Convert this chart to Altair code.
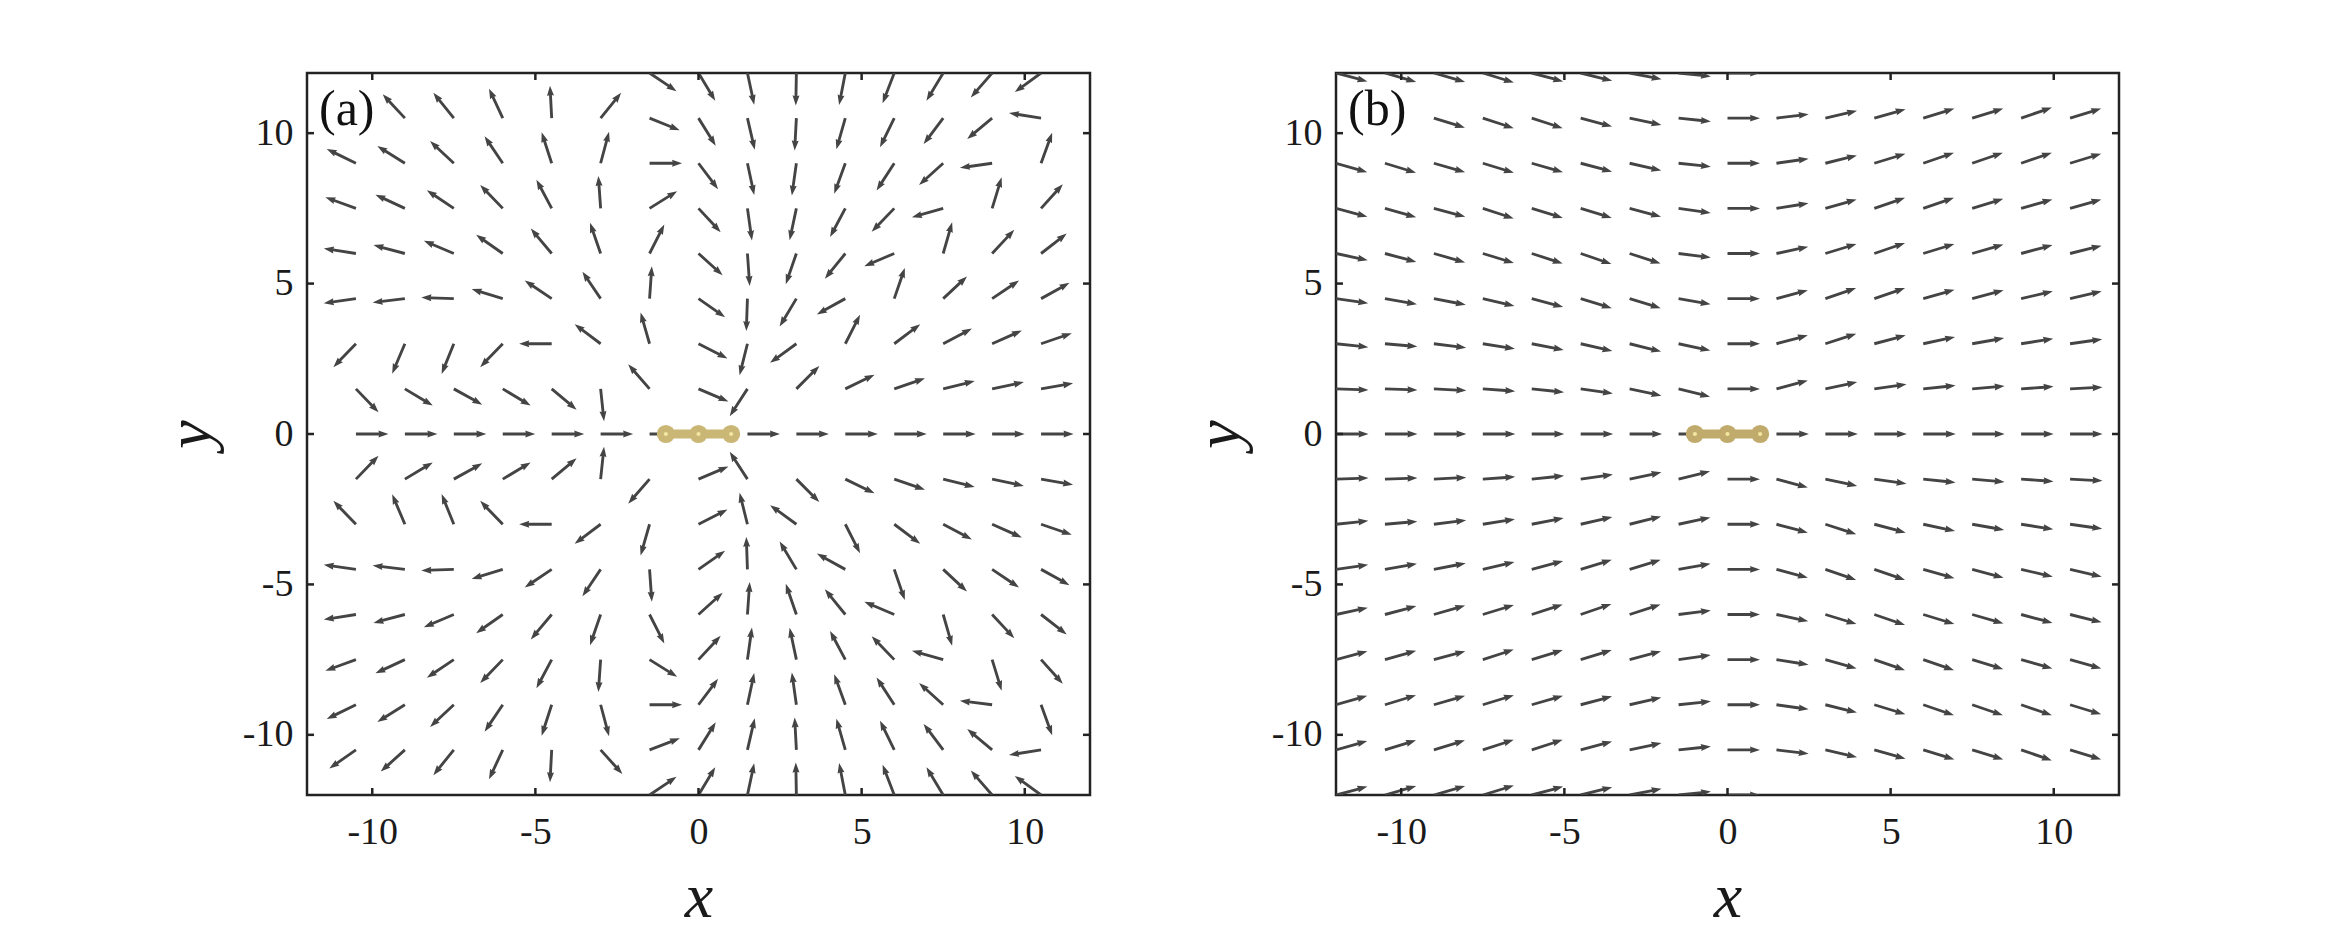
import altair as alt
import pandas as pd

# ---------------- data ----------------
# grid of arrow tails
XS_A = [-10.5, -9, -7.5, -6, -4.5, -3, -1.5, 0, 1.5, 3, 4.5, 6, 7.5, 9, 10.5]
XS_B = [-12, -10.5, -9, -7.5, -6, -4.5, -3, -1.5, 0, 1.5, 3, 4.5, 6, 7.5, 9, 10.5]
YS = [12, 10.5, 9, 7.5, 6, 4.5, 3, 1.5, 0, -1.5, -3, -4.5, -6, -7.5, -9, -10.5, -12]

N = None  # arrow not visible (outside frame or under the panel label)

# arrow directions, degrees counter-clockwise from +x (one row per YS value)
ANG_A = [
    [N, N, N, N, N, N, 326, 301, 282, 269, 259, 249, 239, 229, 216],
    [N, 133, 129, 115, 93, 51, 338, 302, 283, 267, 254, 244, 233, 220, 171],
    [154, 148, 137, 124, 108, 75, 0, 307, 282, 262, 250, 237, 222, 188, 70],
    [160, 155, 146, 134, 118, 94, 32, 313, 278, 258, 242, 226, 196, 73, 48],
    [171, 165, 157, 145, 130, 109, 63, 318, 274, 251, 231, 203, 74, 47, 38],
    [188, 187, 178, 163, 146, 124, 86, 325, 268, 239, 209, 71, 43, 34, 29],
    [226, 247, 248, 226, 180, 143, 106, 333, 256, 216, 63, 37, 28, 24, 19],
    [314, 329, 331, 329, 320, 276, 131, 337, 237, 45, 26, 19, 14, 12, 10],
    [0, 0, 0, 0, 0, 0, 0, 0, 0, 0, 0, 0, 0, 0, 0],
    [46, 31, 29, 31, 40, 84, 229, 23, 123, 315, 334, 341, 346, 348, 350],
    [134, 113, 112, 134, 180, 217, 254, 27, 104, 144, 297, 323, 332, 336, 341],
    [172, 173, 182, 197, 214, 236, 274, 35, 92, 121, 151, 289, 317, 326, 331],
    [189, 195, 203, 215, 230, 251, 297, 42, 86, 109, 129, 157, 286, 313, 322],
    [200, 205, 214, 226, 242, 266, 328, 47, 82, 102, 118, 134, 164, 287, 312],
    [206, 212, 223, 236, 252, 285, 0, 53, 78, 98, 110, 123, 138, 173, 290],
    [215, 222, 231, 245, 267, 312, 21, 58, 77, 93, 106, 116, 127, 140, 189],
    [N, N, N, N, N, N, 34, 59, 78, 91, 101, 111, 121, 131, 144],
]

ANG_B = [
    [-15, -16, -16, -17, -15, -14, -11, -6, 0, N, N, N, N, N, N, N],
    [N, N, -17, -18, -18, -15, -12, -6, 0, 7, 13, 16, 17, 17, 19, 17],
    [-16, -17, -16, -17, -16, -15, -13, -6, 0, 8, 14, 17, 19, 19, 19, 17],
    [-15, -16, -15, -18, -17, -17, -15, -8, 0, 9, 16, 19, 19, 17, 16, 16],
    [-12, -15, -16, -17, -18, -19, -18, -7, 0, 12, 17, 19, 17, 16, 15, 14],
    [-8, -10, -11, -13, -15, -17, -17, -10, 0, 15, 19, 19, 16, 15, 13, 13],
    [-6, -5, -7, -9, -11, -13, -14, -12, 0, 15, 18, 15, 12, 10, 9, 8],
    [-2, -2, -3, -4, -6, -8, -12, -14, 0, 15, 12, 8, 6, 5, 4, 3],
    [0, 0, 0, 0, 0, 0, 0, 0, 0, 0, 0, 0, 0, 0, 0, 0],
    [2, 2, 3, 4, 6, 8, 12, 14, 0, -15, -12, -8, -6, -5, -4, -3],
    [6, 5, 7, 9, 11, 13, 14, 12, 0, -15, -18, -15, -12, -10, -9, -8],
    [8, 10, 11, 13, 15, 17, 17, 10, 0, -15, -19, -19, -16, -15, -13, -13],
    [12, 15, 16, 17, 18, 19, 18, 7, 0, -12, -17, -19, -17, -16, -15, -14],
    [15, 16, 15, 18, 17, 17, 15, 8, 0, -9, -16, -19, -19, -17, -16, -16],
    [16, 17, 16, 17, 16, 15, 13, 6, 0, -8, -14, -17, -19, -19, -19, -17],
    [16, 17, 17, 18, 18, 15, 12, 6, 0, -7, -13, -16, -17, -17, -19, -17],
    [15, 16, 16, 17, 15, 14, 11, 6, 0, N, N, N, N, N, N, N],
]

BEAD_X = [-1, 0, 1]
BEAD_Y = [0, 0, 0]
TICKS = [-10, -5, 0, 5, 10]
DOMAIN = [-12, 12]
LABELS = ["(a)", "(b)"]

# ---------------- style ----------------
W, H = 783, 722
FRAME = "#232323"
ARROW_COLOR = "#444444"
BEAD_COLORS = ["#cbb775", "#c1ab6c"]
DOT_COLOR = "#f3e6a0"
FONT = "Liberation Serif"
ARROW_LEN = 32.5  # px
ARROW = "M0,-0.088L1.42,-0.088L1.38,-0.215L2,0L1.38,0.215L1.42,0.088L0,0.088Z"
TICK_PX = 7


def arrow_frame(xs, angles):
    rows = []
    for yv, row in zip(YS, angles):
        for xv, a in zip(xs, row):
            if a is not None:
                rows.append({"x": xv, "y": yv, "ang": a})
    return pd.DataFrame(rows)


def tick_frame():
    dx = TICK_PX * (DOMAIN[1] - DOMAIN[0]) / W
    dy = TICK_PX * (DOMAIN[1] - DOMAIN[0]) / H
    lo, hi = DOMAIN
    rows = []
    for t in TICKS:
        rows.append({"x": t, "x2": t, "y": lo, "y2": lo + dy})
        rows.append({"x": t, "x2": t, "y": hi, "y2": hi - dy})
        rows.append({"x": lo, "x2": lo + dx, "y": t, "y2": t})
        rows.append({"x": hi, "x2": hi - dx, "y": t, "y2": t})
    return pd.DataFrame(rows)


label_expr = "datum.value < 0 ? '-' + abs(datum.value) : '' + datum.value"
scale = alt.Scale(domain=DOMAIN, nice=False, zero=False)
ax_x = alt.Axis(values=TICKS, title="x", labelExpr=label_expr)
ax_y = alt.Axis(values=TICKS, title="y", labelExpr=label_expr)


def X(f="x"):
    return alt.X(f"{f}:Q", scale=scale, axis=ax_x)


def Y(f="y"):
    return alt.Y(f"{f}:Q", scale=scale, axis=ax_y)


def panel(xs, angles, bead_color, label):
    arrows = (
        alt.Chart(arrow_frame(xs, angles))
        .transform_calculate(va="(360 - datum.ang) % 360")
        .mark_point(shape=ARROW, filled=True, size=ARROW_LEN ** 2, opacity=1,
                    color=ARROW_COLOR, strokeWidth=0, clip=True)
        .encode(x=X(), y=Y(), angle=alt.Angle("va:Q", scale=None))
    )
    ticks = (
        alt.Chart(tick_frame())
        .mark_rule(color=FRAME, strokeWidth=2.5)
        .encode(x=X(), x2="x2:Q", y=Y(), y2="y2:Q")
    )
    beads_df = pd.DataFrame({"x": BEAD_X, "y": BEAD_Y})
    bar = alt.Chart(beads_df).mark_line(color=bead_color, strokeWidth=9).encode(x=X(), y=Y())
    beads = alt.Chart(beads_df).mark_circle(size=330, color=bead_color, opacity=1).encode(x=X(), y=Y())
    dots = alt.Chart(beads_df).mark_circle(size=18, color=DOT_COLOR, opacity=1).encode(x=X(), y=Y())
    lab = (
        alt.Chart(pd.DataFrame({"t": [label]}))
        .mark_text(font=FONT, fontSize=50, align="left", baseline="alphabetic", color="#111")
        .encode(x=alt.value(12), y=alt.value(52), text="t:N")
    )
    return alt.layer(arrows, ticks, bar, beads, dots, lab).properties(width=W, height=H)


pa = panel(XS_A, ANG_A, BEAD_COLORS[0], LABELS[0])
pb = panel(XS_B, ANG_B, BEAD_COLORS[1], LABELS[1])

chart = (
    alt.hconcat(pa, pb, spacing=93)
    .properties(padding={"left": 149, "top": 62, "right": 5, "bottom": 5}, background="white")
    .configure_view(stroke=FRAME, strokeWidth=2.5)
    .configure_axis(
        domain=False, ticks=False, grid=False,
        labelFont=FONT, labelFontSize=38, labelColor="#1a1a1a",
        titleFont=FONT, titleFontSize=64, titleFontStyle="italic",
        titleFontWeight="normal", titleColor="#1a1a1a",
    )
    .configure_axisX(labelPadding=18, titlePadding=14)
    .configure_axisY(labelPadding=14, titlePadding=20)
)

chart.save("out.html", embed_options={"renderer": "svg", "actions": False})
